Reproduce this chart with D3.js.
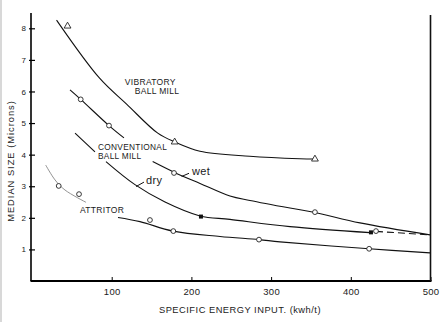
<!DOCTYPE html>
<html>
<head>
<meta charset="utf-8">
<script src="https://cdn.jsdelivr.net/npm/d3@7"></script>
<style>
  html, body { margin: 0; padding: 0; background: #fff; }
  #root { width: 447px; height: 322px; position: relative; }
  svg { display: block; font-family: "Liberation Sans", Arial, sans-serif; }
  text { fill: #1a1a1a; }
</style>
</head>
<body>
<div id="root"></div>
<script>
// axis ticks
const xTicks = [100, 200, 300, 400, 500];
const yTicks = [1, 2, 3, 4, 5, 6, 7, 8];

// curves, [energy kWh/t, median size microns]
const vibratoryLine = [[30.8, 8.26], [84.8, 6.42], [118.7, 5.60], [157.8, 4.68], [179.3, 4.40],
  [210.7, 4.11], [273.2, 3.95], [336, 3.87], [355, 3.86]];
const vibratoryPts = [[44.6, 8.07], [179, 4.40], [355, 3.86]];

const wetLineA = [[47.7, 6.05], [61.1, 5.75], [96.6, 4.92], [115.4, 4.53]];
const wetLineB = [[151.4, 3.78], [179.4, 3.43], [210.8, 3.09], [248.4, 2.69], [273.5, 2.55],
  [323.7, 2.31], [355, 2.17], [411.5, 1.84], [499.4, 1.46]];
const wetPts = [[61.1, 5.75], [96.6, 4.92], [178.2, 3.42], [355, 2.18]];

const dryLineA = [[54, 4.68], [79, 4.09]];
const dryLineB = [[92.8, 3.78], [129.2, 3.05], [166.9, 2.50], [210.8, 2.06], [248.4, 1.95],
  [323.7, 1.72], [424.1, 1.53]];
const dryDash = [[431.6, 1.57], [499.4, 1.46]];
const drySolidPts = [[212, 2.04], [425.3, 1.54]];
const dryOpenPts = [[431.6, 1.58]];

const attritorLineA = [[17.2, 3.67], [28.9, 3.20], [41.4, 2.88], [67.8, 2.49]];
const attritorLineB = [[107.9, 2.01], [135.5, 1.88], [176.9, 1.58], [235.9, 1.41], [284.8, 1.31],
  [311.2, 1.24], [423, 1.02], [499.4, 0.89]];
const attritorPts = [[33.5, 3.01], [59, 2.75], [148, 1.93], [177.3, 1.58], [284.8, 1.31], [423, 1.02]];

// in-plot labels: text, x, y (data units, left/baseline), font size
const labels = [
  ["VIBRATORY", 116.5, 6.22, 8.5],
  ["BALL MILL", 129, 5.92, 8.5],
  ["CONVENTIONAL", 82.8, 4.16, 8.3],
  ["BALL MILL", 82.8, 3.86, 8.3],
  ["wet", 200.6, 3.34, 11],
  ["dry", 143, 3.07, 11],
  ["ATTRITOR", 60.2, 2.15, 8.5]
];
const leaders = [
  [[187.8, 3.31], [197, 3.41]],
  [[130.5, 2.99], [140.5, 3.13]]
];

const W = 447, H = 322;
const svg = d3.select("#root").append("svg").attr("width", W).attr("height", H);
svg.append("rect").attr("width", W).attr("height", H).attr("fill", "#fff");
svg.append("rect").attr("width", 2).attr("height", H).attr("fill", "#d8d8d8");

const x = d3.scaleLinear().domain([0, 500]).range([32, 430.5]);
const y = d3.scaleLinear().domain([0, 8]).range([281, 28.3]);

// axes
const gx = svg.append("g").attr("transform", `translate(0,${y(0)})`)
  .call(d3.axisBottom(x).tickValues(xTicks).tickSizeInner(-4).tickSizeOuter(0).tickPadding(7));
gx.select(".domain").attr("d", `M${x(0) - 1.5},0H${x(500) + 1}`).attr("stroke-width", 2);
gx.selectAll("text").attr("font-size", 9.5).attr("letter-spacing", 0.3);

const gy = svg.append("g").attr("transform", `translate(${x(0) - 1},0)`)
  .call(d3.axisLeft(y).tickValues(yTicks).tickSizeInner(-4).tickSizeOuter(0).tickPadding(5));
gy.select(".domain").attr("d", `M0,13V${y(0)}`).attr("stroke-width", 1.6);
gy.selectAll(".tick line").attr("x1", -2).attr("stroke-width", 1.2);
gy.selectAll("text").attr("font-size", 8);

// right border at 500
svg.append("line")
  .attr("x1", x(500)).attr("x2", x(500)).attr("y1", 15).attr("y2", y(0))
  .attr("stroke", "#111").attr("stroke-width", 1.6);

// axis titles
svg.append("text")
  .attr("x", 240).attr("y", 313)
  .attr("text-anchor", "middle").attr("font-size", 9.3).attr("letter-spacing", 0.5)
  .text("SPECIFIC ENERGY INPUT. (kwh/t)");
svg.append("text")
  .attr("transform", "translate(14,161) rotate(-90)")
  .attr("text-anchor", "middle").attr("font-size", 9.3).attr("letter-spacing", 1)
  .text("MEDIAN SIZE (Microns)");

// curves
const line = d3.line().x(d => x(d[0])).y(d => y(d[1])).curve(d3.curveCatmullRom.alpha(0.5));
const curves = [
  [vibratoryLine, "#111", 1.1, null],
  [wetLineA, "#111", 1.1, null],
  [wetLineB, "#111", 1.1, null],
  [dryLineA, "#111", 1.1, null],
  [dryLineB, "#111", 1.1, null],
  [dryDash, "#111", 1.1, "7,4"],
  [attritorLineA, "#777", 0.8, null],
  [attritorLineB, "#111", 1.1, null]
];
svg.append("g").selectAll("path").data(curves).join("path")
  .attr("d", d => line(d[0]))
  .attr("fill", "none")
  .attr("stroke", d => d[1])
  .attr("stroke-width", d => d[2])
  .attr("stroke-dasharray", d => d[3]);

// leader lines for wet / dry
svg.append("g").selectAll("line").data(leaders).join("line")
  .attr("x1", d => x(d[0][0])).attr("y1", d => y(d[0][1]))
  .attr("x2", d => x(d[1][0])).attr("y2", d => y(d[1][1]))
  .attr("stroke", "#111").attr("stroke-width", 1);

// markers
const tri = d3.symbol().type(d3.symbolTriangle).size(20);
svg.append("g").selectAll("path").data(vibratoryPts).join("path")
  .attr("transform", d => `translate(${x(d[0])},${y(d[1])})`)
  .attr("d", tri).attr("fill", "#fff").attr("stroke", "#222").attr("stroke-width", 0.9);

const openPts = wetPts.concat(dryOpenPts, attritorPts);
svg.append("g").selectAll("circle").data(openPts).join("circle")
  .attr("cx", d => x(d[0])).attr("cy", d => y(d[1])).attr("r", 2.4)
  .attr("fill", "#fff").attr("stroke", "#222").attr("stroke-width", 0.9);

svg.append("g").selectAll("rect").data(drySolidPts).join("rect")
  .attr("x", d => x(d[0]) - 2).attr("y", d => y(d[1]) - 2)
  .attr("width", 4).attr("height", 4).attr("fill", "#111");

// curve labels
svg.append("g").selectAll("text").data(labels).join("text")
  .attr("x", d => x(d[1])).attr("y", d => y(d[2]))
  .attr("font-size", d => d[3])
  .attr("letter-spacing", d => d[3] < 10 ? 0.3 : 0.4)
  .text(d => d[0]);
</script>
</body>
</html>
